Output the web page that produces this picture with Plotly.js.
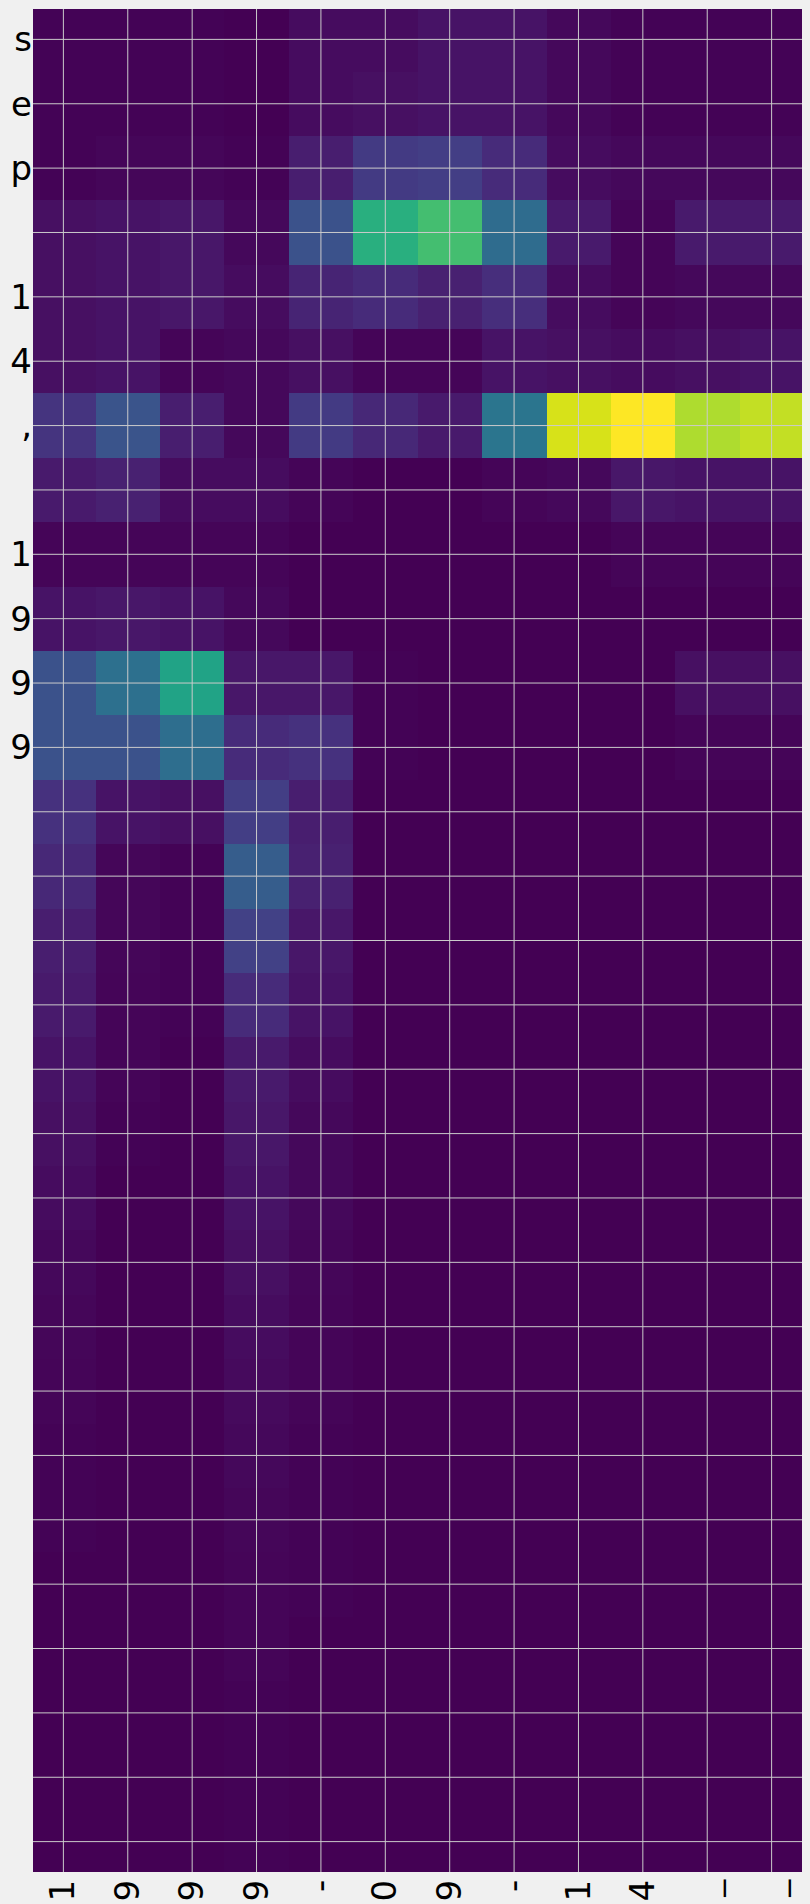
<!DOCTYPE html>
<html>
<head>
<meta charset="utf-8">
<script src="https://cdn.plot.ly/plotly-3.0.1.min.js"></script>
<style>
  html, body { margin: 0; padding: 0; background: #f0f0f0; }
  #chart { width: 810px; height: 1904px; }
</style>
</head>
<body>
<div id="chart"></div>
<script>
// Tick labels (one character per tick, as in the reference)
const xTickText = ["1", "9", "9", "9", "-", "0", "9", "-", "1", "4", "_", "_"];
const yTickText = ["s", "e", "p", " ", "1", "4", ",", " ", "1", "9", "9", "9",
                   "", "", "", "", "", "", "", "", "", "", "", "", "", "", "", "", ""];

// Column / row indices
const xIdx = xTickText.map((_, i) => i);
const yIdx = yTickText.map((_, i) => i);

// Cell values (0-100), one row per y tick, 12 columns each
const zRows = [
  [0.5, 0.5, 0.5, 0, 3, 3, 5, 5, 2, 0.5, 0.5, 0.5],
  [0.5, 0.5, 0.5, 0, 3, 4, 5, 5, 2, 0.5, 0.5, 0.5],
  [0.5, 1.5, 1.5, 0.5, 8, 17, 18, 12, 3, 2, 2, 2],
  [4, 5, 6, 2, 25, 63, 70, 35, 7, 1, 7, 7],
  [4, 5, 6, 3, 10, 12, 9, 13, 3, 1, 2, 2],
  [4, 5, 1, 2, 4, 1, 1, 5, 4, 3, 4, 5],
  [15, 26, 8, 2, 17, 11, 7, 39, 94, 100, 88, 91],
  [7, 9, 3, 3, 1, 0, 0, 1, 2, 6, 5, 5],
  [1, 1, 1, 1, 0, 0, 0, 0, 0, 1, 1, 1],
  [5, 6, 5, 2, 0, 0, 0, 0, 0, 0, 0, 0],
  [25, 37, 58, 6, 6, 0.5, 0, 0, 0, 0, 4, 4],
  [25, 25, 36, 12, 14, 0.5, 0, 0, 0, 0, 1, 1],
  [14, 5, 4, 18, 8, 0, 0, 0, 0, 0, 0, 0],
  [11, 1.5, 0.5, 29, 9, 0, 0, 0, 0, 0, 0, 0],
  [8, 1.5, 0.5, 19, 6, 0, 0, 0, 0, 0, 0, 0],
  [7, 1, 0.5, 12, 5, 0, 0, 0, 0, 0, 0, 0],
  [5, 1, 0, 7, 3, 0, 0, 0, 0, 0, 0, 0],
  [4, 0.5, 0, 6, 2, 0, 0, 0, 0, 0, 0, 0],
  [3, 0, 0, 5, 2, 0, 0, 0, 0, 0, 0, 0],
  [2, 0, 0, 4, 1.5, 0, 0, 0, 0, 0, 0, 0],
  [1.5, 0, 0, 3, 1, 0, 0, 0, 0, 0, 0, 0],
  [1, 0, 0, 2.5, 1, 0, 0, 0, 0, 0, 0, 0],
  [0.5, 0, 0, 2, 0.5, 0, 0, 0, 0, 0, 0, 0],
  [0.5, 0, 0, 1.5, 0.5, 0, 0, 0, 0, 0, 0, 0],
  [0, 0, 0, 1, 0.5, 0, 0, 0, 0, 0, 0, 0],
  [0, 0, 0, 1, 0, 0, 0, 0, 0, 0, 0, 0],
  [0, 0, 0, 0.5, 0, 0, 0, 0, 0, 0, 0, 0],
  [0, 0, 0, 0.5, 0, 0, 0, 0, 0, 0, 0, 0],
  [0, 0, 0, 0.5, 0, 0, 0, 0, 0, 0, 0, 0]
];

const gridColor = '#cbcbcb';
const font = { family: 'DejaVu Sans, sans-serif', size: 34, color: '#000000' };

const trace = {
  type: 'heatmap',
  x: xIdx,
  y: yIdx,
  z: zRows,
  zmin: 0,
  zmax: 100,
  colorscale: 'Viridis',
  showscale: false,
  hoverinfo: 'skip'
};

// Grid lines drawn above the heatmap, at every tick
const shapes = [];
xIdx.forEach(v => shapes.push({
  type: 'line', xref: 'x', yref: 'paper', x0: v, x1: v, y0: 0, y1: 1,
  line: { color: gridColor, width: 1 }, layer: 'above'
}));
yIdx.forEach(v => shapes.push({
  type: 'line', xref: 'paper', yref: 'y', x0: 0, x1: 1, y0: v, y1: v,
  line: { color: gridColor, width: 1 }, layer: 'above'
}));

const pad = 0.472;
const layout = {
  width: 810,
  height: 1904,
  margin: { l: 33, r: 8, t: 9, b: 32, pad: 0 },
  paper_bgcolor: '#f0f0f0',
  plot_bgcolor: '#f0f0f0',
  font: font,
  showlegend: false,
  xaxis: {
    range: [-pad, xIdx.length - 1 + pad],
    tickmode: 'array',
    tickvals: xIdx,
    ticktext: xTickText,
    tickangle: -90,
    ticks: '',
    showgrid: false,
    zeroline: false,
    showline: false,
    tickfont: font
  },
  yaxis: {
    range: [yIdx.length - 1 + pad, -pad],
    tickmode: 'array',
    tickvals: yIdx,
    ticktext: yTickText,
    ticks: '',
    showgrid: false,
    zeroline: false,
    showline: false,
    tickfont: font
  },
  shapes: shapes
};

Plotly.newPlot('chart', [trace], layout, { displayModeBar: false, staticPlot: true });
</script>
</body>
</html>
